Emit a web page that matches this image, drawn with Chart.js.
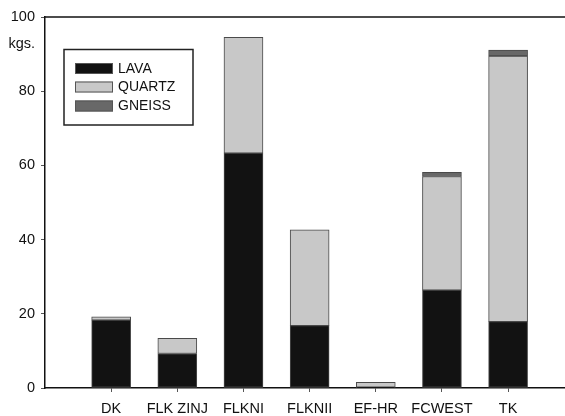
<!DOCTYPE html>
<html>
<head>
<meta charset="utf-8">
<script src="https://cdn.jsdelivr.net/npm/chart.js@4"></script>
<style>
html,body{margin:0;padding:0;background:#fff;}
#wrap{width:565px;height:416px;position:relative;}
</style>
</head>
<body>
<div id="wrap"><canvas id="c" width="565" height="416"></canvas></div>
<script>
const categories = ['DK', 'FLK ZINJ', 'FLKNI', 'FLKNII', 'EF-HR', 'FCWEST', 'TK'];
const seriesNames = ['LAVA', 'QUARTZ', 'GNEISS'];
const lava   = [18.3, 9.3, 63.3, 16.8, 0.2, 26.4, 17.9];
const quartz = [0.9, 4.1, 31.2, 25.8, 1.3, 30.6, 71.6];
const gneiss = [null, null, null, null, null, 1.1, 1.6];
const yTicks = [0, 20, 40, 60, 80, 100];
const yUnit = 'kgs.';

const FONT = "'Liberation Sans', Arial, sans-serif";
const colors = ['#121212', '#c8c8c8', '#686868'];

function pts(arr) { return arr.map((v, i) => ({ x: i, y: v })); }

const legendPlugin = {
  id: 'boxLegend',
  afterDraw(chart) {
    const ctx = chart.ctx;
    ctx.save();
    ctx.strokeStyle = '#111';
    ctx.lineWidth = 1.5;
    ctx.beginPath();
    ctx.moveTo(chart.chartArea.left, chart.chartArea.top);
    ctx.lineTo(chart.chartArea.right, chart.chartArea.top);
    ctx.stroke();
    ctx.fillStyle = '#111';
    ctx.font = '14.5px ' + FONT;
    ctx.textAlign = 'right';
    ctx.textBaseline = 'alphabetic';
    ctx.fillText(yUnit, 35, 48);
    ctx.lineWidth = 1.5;
    ctx.strokeStyle = '#222';
    ctx.strokeRect(64, 49.5, 129, 75.5);
    const rows = [63, 81.5, 100.5];
    chart.data.datasets.forEach((ds, i) => {
      const y = rows[i];
      ctx.fillStyle = ds.backgroundColor;
      ctx.fillRect(75, y, 38, 11);
      ctx.lineWidth = 1;
      ctx.strokeStyle = '#555';
      ctx.strokeRect(75.5, y + 0.5, 37, 10);
      ctx.fillStyle = '#111';
      ctx.font = '14px ' + FONT;
      ctx.textAlign = 'left';
      ctx.textBaseline = 'middle';
      ctx.fillText(ds.label, 118, y + 6);
    });
    ctx.restore();
  }
};

new Chart(document.getElementById('c'), {
  type: 'bar',
  data: {
    datasets: [lava, quartz, gneiss].map((arr, i) => ({
      label: seriesNames[i],
      data: pts(arr),
      backgroundColor: colors[i],
      borderColor: '#4a4a4a',
      borderWidth: 1,
      borderSkipped: false,
      barThickness: 39
    }))
  },
  options: {
    responsive: false,
    animation: false,
    layout: { padding: { top: 17, right: 0, left: 0, bottom: 0 } },
    plugins: { legend: { display: false }, tooltip: { enabled: false } },
    scales: {
      x: {
        type: 'linear',
        stacked: true,
        offset: false,
        min: -1,
        max: 6.86,
        afterBuildTicks: (s) => { s.ticks = categories.map((c, i) => ({ value: i })); },
        afterFit: (s) => { s.height = 28; },
        grid: { offset: false, drawOnChartArea: false, drawTicks: true, tickLength: 4, color: '#555', lineWidth: 1 },
        border: { display: true, color: '#111', width: 1.5 },
        ticks: {
          autoSkip: false,
          maxRotation: 0,
          padding: 8,
          color: '#111',
          font: { family: FONT, size: 14.5 },
          callback: (v) => categories[v] ?? ''
        }
      },
      y: {
        stacked: true,
        min: 0,
        max: 100,
        afterBuildTicks: (s) => { s.ticks = yTicks.map(v => ({ value: v })); },
        afterFit: (s) => { s.width = 45; },
        grid: { drawOnChartArea: false, drawTicks: true, tickLength: 4, color: '#555', lineWidth: 1 },
        border: { display: true, color: '#111', width: 1.5 },
        ticks: {
          padding: 6,
          color: '#111',
          font: { family: FONT, size: 14.5 }
        }
      }
    }
  },
  plugins: [legendPlugin]
});
</script>
</body>
</html>
